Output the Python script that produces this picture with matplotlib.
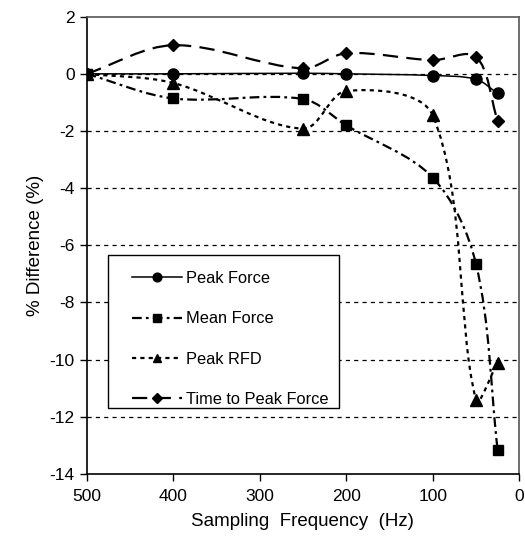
import numpy as np
import matplotlib
matplotlib.use('Agg')
import matplotlib.pyplot as plt
from matplotlib.path import Path
from matplotlib.patches import PathPatch, Rectangle
from matplotlib.lines import Line2D

plt.rcParams['font.family'] = ['Liberation Sans', 'DejaVu Sans']
plt.rcParams['axes.unicode_minus'] = False
plt.rcParams['lines.scale_dashes'] = False

freq = [500, 400, 250, 200, 100, 50, 25]
peak_force = [0, 0, 0.02, 0, -0.06, -0.19, -0.68]
mean_force = [0, -0.86, -0.88, -1.8, -3.63, -6.65, -13.15]
peak_rfd = [0, -0.32, -1.92, -0.6, -1.45, -11.4, -10.1]
time_to_peak = [0, 1.0, 0.19, 0.72, 0.48, 0.6, -1.64]

series_names = ['Peak Force', 'Mean Force', 'Peak RFD', 'Time to Peak Force']
series_vals = [peak_force, mean_force, peak_rfd, time_to_peak]
markers = ['o', 's', '^', 'D']
msizes = [8, 7, 8, 6.5]
leg_msizes = [6.3, 5.5, 6.3, 5]
styles = ['-', (0, (7, 3, 2, 3)), (0, (3, 3)), (0, (11, 6))]
widths = [1.1, 1.6, 1.6, 1.6]

yticks = [2, 0, -2, -4, -6, -8, -10, -12, -14]
xticks = [500, 400, 300, 200, 100, 0]


def smooth_path(ax, xs, ys, f=1.0 / 6):
    # Bezier smoothing (spreadsheet-style) computed in display space
    P = ax.transData.transform(np.column_stack([xs, ys]))
    n = len(P)
    verts = [P[0]]
    codes = [Path.MOVETO]
    fwd = []
    bwd = []
    for i in range(n):
        p0 = P[i - 1] if i > 0 else P[i]
        p1 = P[i]
        p2 = P[i + 1] if i + 1 < n else P[i]
        T = p2 - p0
        d01 = np.hypot(*(p1 - p0))
        d12 = np.hypot(*(p2 - p1))
        s = d01 + d12
        if s == 0:
            fwd.append(p1)
            bwd.append(p1)
            continue
        fwd.append(p1 + T * f * 2 * d12 / s)
        bwd.append(p1 - T * f * 2 * d01 / s)
    for i in range(n - 1):
        verts += [fwd[i], bwd[i + 1], P[i + 1]]
        codes += [Path.CURVE4] * 3
    verts = ax.transData.inverted().transform(np.array(verts))
    return Path(verts, codes)


fig = plt.figure(figsize=(5.25, 5.39), dpi=100)
ax = fig.add_axes([0.165, 0.1206, 0.824, 0.8485])
ax.set_xlim(500, 0)
ax.set_ylim(-14, 2)

for y in yticks[1:-1]:
    ax.axhline(y, color='black', lw=0.9, linestyle=(0, (3, 3)), zorder=1)

handles = []
for name, vals, m, ms, lms, ls, lw in zip(series_names, series_vals, markers, msizes,
                                          leg_msizes, styles, widths):
    patch = PathPatch(smooth_path(ax, freq, vals), facecolor='none', edgecolor='black',
                      lw=lw, linestyle=ls, zorder=2)
    ax.add_patch(patch)
    ax.plot(freq, vals, linestyle='none', marker=m, ms=ms, color='black', zorder=3)
    handles.append(Line2D([], [], color='black', lw=lw, linestyle=ls, marker=m, ms=lms))

ax.set_xticks(xticks)
ax.set_yticks(yticks)
ax.tick_params(axis='both', direction='out', length=5, width=1, labelsize=12.5, color='black')
ax.tick_params(axis='x', pad=6)
for s in ['left', 'bottom']:
    ax.spines[s].set_color('black')
    ax.spines[s].set_linewidth(1.2)
for s in ['top', 'right']:
    ax.spines[s].set_color('#555555')
    ax.spines[s].set_linewidth(1.2)

ax.set_xlabel('Sampling  Frequency  (Hz)', fontsize=13.5, labelpad=6)
ax.set_ylabel('% Difference (%)', fontsize=13.5, labelpad=4)

# legend frame
ax.add_patch(Rectangle((0.0499, 0.145), 0.534, 0.334, transform=ax.transAxes,
                       facecolor='white', edgecolor='black', lw=1.0, zorder=4))
leg = ax.legend(handles, series_names, loc='upper left', bbox_to_anchor=(0.104, 0.444),
                fontsize=11.8, frameon=False, handlelength=3.05, handletextpad=0.27,
                labelspacing=1.55, borderpad=0, borderaxespad=0)
leg.set_zorder(5)

fig.savefig('out.png', dpi=100)
